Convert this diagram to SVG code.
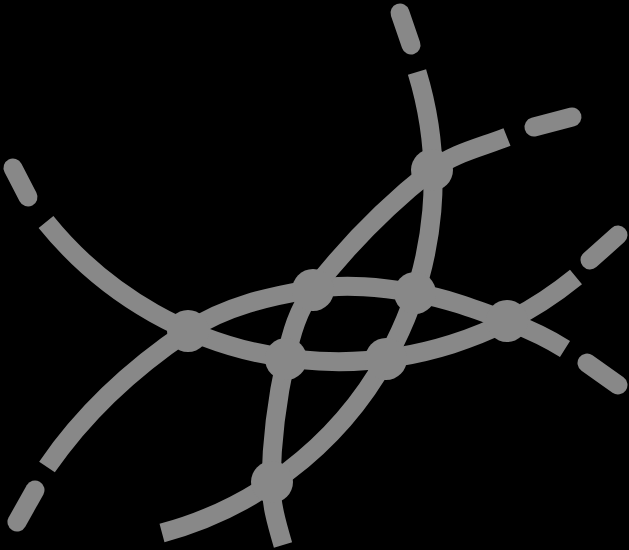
<svg xmlns="http://www.w3.org/2000/svg" width="629" height="550" viewBox="0 0 629 550">
<style>
.c{fill:none;stroke:#888;stroke-width:19;stroke-linecap:butt}
.d{fill:none;stroke:#888;stroke-width:19;stroke-linecap:round}
.n{fill:#888}
</style>
<rect x="0" y="0" width="629" height="550" fill="#000"/>
<g id="connectors">
<path class="c" d="M46,222 A376,376 0 0 0 576,277"/>
<line class="d" x1="13" y1="168" x2="28" y2="197"/>
<line class="d" x1="590" y1="260" x2="618" y2="235"/>
<path class="c" d="M47,467 C84.8,411.9 134.5,366.9 188,331 C224.5,306.4 269.6,296.3 313,289 C346.5,283.4 381.4,287.5 415,293 C446.7,298.2 476.9,309.8 507,321 C527,328.5 546.9,337.7 565,349"/>
<line class="d" x1="35" y1="490" x2="17" y2="522"/>
<line class="d" x1="587" y1="363" x2="618" y2="385"/>
<path class="c" d="M507,137 C481.6,147.1 453.4,153.1 432,170 C387.8,204.8 347.5,245.5 313,290 C298,309.3 291.2,334.2 286,358 C277.1,398.6 271.7,440.4 271,482 C270.7,503.4 277,524.5 283,545"/>
<line class="d" x1="534" y1="127" x2="572" y2="117"/>
<path class="c" d="M417,72 A366,366 0 0 1 162,533"/>
<line class="d" x1="400" y1="13" x2="411" y2="45"/>
</g>
<g id="n1"><circle class="n" cx="188" cy="331" r="21"/></g>
<g id="n2"><circle class="n" cx="313" cy="290" r="21"/></g>
<g id="n3"><circle class="n" cx="415" cy="293" r="21"/></g>
<g id="n4"><circle class="n" cx="507" cy="321" r="21"/></g>
<g id="n5"><circle class="n" cx="286" cy="359" r="21"/></g>
<g id="n6"><circle class="n" cx="386" cy="359" r="21"/></g>
<g id="n7"><circle class="n" cx="432" cy="170" r="21"/></g>
<g id="n8"><circle class="n" cx="272" cy="482" r="21"/></g>
</svg>
